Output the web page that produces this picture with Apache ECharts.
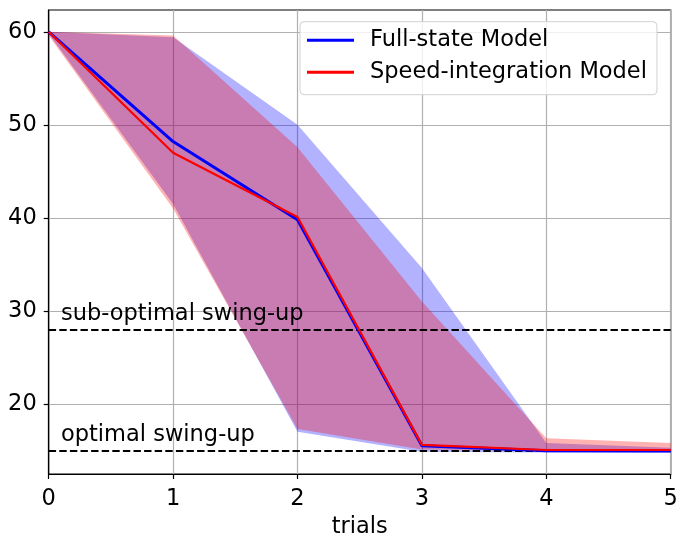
<!DOCTYPE html>
<html>
<head>
<meta charset="utf-8">
<script src="https://cdn.jsdelivr.net/npm/echarts@6/dist/echarts.min.js"></script>
<style>
  html, body { margin: 0; padding: 0; background: #fff; }
  #chart { width: 676px; height: 536px; }
</style>
</head>
<body>
<div id="chart"></div>
<script>
const trials = ['0', '1', '2', '3', '4', '5']
const fullMean = [60, 48.2, 39.8, 15.5, 14.97, 14.95]
const speedMean = [60, 47.0, 40.1, 15.6, 15.05, 15.05]
const fullUpper = [60, 59.4, 50.0, 34.6, 15.8, 15.3]
const fullLower = [59.8, 41.5, 17.0, 14.86, 14.78, 14.76]
const speedUpper = [60, 59.6, 47.6, 31.0, 16.3, 15.8]
const speedLower = [59.6, 41.0, 17.3, 15.1, 15.0, 15.0]
const yTicks = [20, 30, 40, 50, 60]
const refLines = [28, 15]
const seriesNames = ['Full-state Model', 'Speed-integration Model']

const FONT = 'DejaVu Sans'
const FS = 22.5
const diff = (up, lo) => up.map((v, i) => v - lo[i])

// confidence band = invisible lower + stacked (upper - lower) area
function band (name, lower, upper, color) {
  return [{
    type: 'line',
    name: name + '-lo',
    stack: name,
    data: lower,
    symbol: 'none',
    lineStyle: { opacity: 0 },
    silent: true,
    z: 1
  }, {
    type: 'line',
    name: name + '-hi',
    stack: name,
    data: diff(upper, lower),
    symbol: 'none',
    lineStyle: { opacity: 0 },
    areaStyle: { color: color, opacity: 1 },
    silent: true,
    z: 1
  }]
}

const option = {
  animation: false,
  backgroundColor: '#fff',
  textStyle: { fontFamily: FONT },
  grid: {
    left: 48.7,
    right: 5.3,
    top: 10,
    bottom: 62,
    containLabel: false,
    outerBoundsMode: 'none',
    show: true,
    borderColor: '#000',
    borderWidth: 1.2,
    backgroundColor: 'transparent'
  },
  legend: {
    orient: 'vertical',
    left: 300,
    top: 21.7,
    padding: [7, 10, 11, 7],
    itemGap: 9,
    itemWidth: 47,
    itemHeight: 3,
    icon: 'rect',
    backgroundColor: 'rgba(255,255,255,0.8)',
    borderColor: '#d0d0d0',
    borderWidth: 1,
    borderRadius: 4,
    textStyle: {
      fontFamily: FONT,
      fontSize: FS,
      color: '#000',
      padding: [0, 0, 0, 11]
    },
    data: [
      { name: seriesNames[0], itemStyle: { color: '#0000ff' } },
      { name: seriesNames[1], itemStyle: { color: '#ff0000' } }
    ]
  },
  xAxis: {
    type: 'category',
    boundaryGap: false,
    data: trials,
    name: 'trials',
    nameLocation: 'middle',
    nameGap: 41,
    nameTextStyle: { fontFamily: FONT, fontSize: FS, color: '#000' },
    axisLine: { show: true, onZero: false, lineStyle: { color: '#000', width: 1.2 } },
    axisTick: { show: true, inside: false, length: 5, alignWithLabel: true, lineStyle: { color: '#000', width: 1.2 } },
    axisLabel: { fontFamily: FONT, fontSize: FS, color: '#000', margin: 14 },
    splitLine: { show: true, lineStyle: { color: '#b0b0b0', width: 1.2 } }
  },
  yAxis: {
    type: 'value',
    min: 12.47,
    max: 62.34,
    axisLine: { show: true, onZero: false, lineStyle: { color: '#000', width: 1.2 } },
    axisTick: { show: true, inside: false, length: 5, customValues: yTicks, lineStyle: { color: '#000', width: 1.2 } },
    axisLabel: { fontFamily: FONT, fontSize: FS, color: '#000', margin: 12, customValues: yTicks },
    splitLine: { show: true, lineStyle: { color: '#b0b0b0', width: 1.2 } }
  },
  graphic: [{
    type: 'text',
    left: 61,
    top: 303,
    style: { text: 'sub-optimal swing-up', font: FS + 'px "DejaVu Sans"', fill: '#000' },
    z: 10
  }, {
    type: 'text',
    left: 61,
    top: 424,
    style: { text: 'optimal swing-up', font: FS + 'px "DejaVu Sans"', fill: '#000' },
    z: 10
  }],
  series: [
    ...band('fullBand', fullLower, fullUpper, 'rgba(0,0,255,0.3)'),
    ...band('speedBand', speedLower, speedUpper, 'rgba(255,0,0,0.3)'),
    {
      type: 'line',
      name: 'refs',
      data: [],
      silent: true,
      markLine: {
        silent: true,
        symbol: 'none',
        label: { show: false },
        lineStyle: { color: '#000', type: [7.4, 3.2], width: 2 },
        data: refLines.map(v => ({ yAxis: v }))
      },
      z: 4
    },
    {
      type: 'line',
      name: seriesNames[0],
      data: fullMean,
      symbol: 'none',
      color: '#0000ff',
      lineStyle: { color: '#0000ff', width: 3 },
      z: 5
    },
    {
      type: 'line',
      name: seriesNames[1],
      data: speedMean,
      symbol: 'none',
      color: '#ff0000',
      lineStyle: { color: '#ff0000', width: 2.2 },
      z: 6
    }
  ]
}

const chart = echarts.init(document.getElementById('chart'))
chart.setOption(option)
</script>
</body>
</html>
